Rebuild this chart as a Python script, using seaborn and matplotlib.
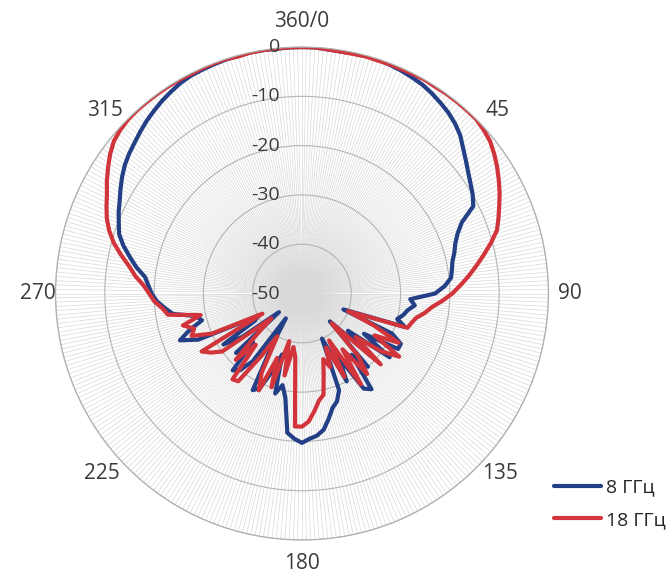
import numpy as np
import pandas as pd
import seaborn as sns
import matplotlib
matplotlib.use("Agg")
import matplotlib.pyplot as plt
from matplotlib.lines import Line2D

# angle grid (degrees, clockwise from top)
angles_deg = list(range(0, 360, 3))

# normalised pattern, dB
gain_8ghz = [
    0, 0, -0.2, -0.3, -0.2, -0.1, -0.1, -0.3, -0.5, -0.8,          # 0-27
    -1.1, -1.6, -2.2, -2.8, -3.6, -4.6, -6.0, -7.2, -8.3, -9.2,    # 30-57
    -10.0, -11.0, -14.5, -16.2, -17.3, -18.0, -18.8, -19.2, -19.6, -21.0,  # 60-87
    -23.0, -28.0, -27.0, -28.3, -29.0, -30.0, -28, -41, -30, -27.5,        # 90-117
    -27.5, -35, -28, -38, -31, -42, -30, -34, -26, -27,                    # 120-147
    -35, -30, -40, -29, -27, -26, -24, -22, -21, -20.5,                    # 150-177
    -19.7, -20.5, -21.6, -28.5, -31, -29, -37, -33, -29, -28,              # 180-207
    -38, -44, -33, -30, -29, -36, -32, -44, -35, -31,                      # 210-237
    -39, -40, -27, -23.5, -26, -29, -28, -23.5, -22, -20.5,                # 240-267
    -19.5, -18.8, -18, -16, -14.3, -12.5, -11, -10.2, -9.3, -8.5,          # 270-297
    -7.5, -6.5, -5.6, -4.9, -4.3, -3.6, -2.9, -2.3, -1.7, -1.2,            # 300-327
    -0.7, -0.4, -0.3, -0.2, -0.1, -0.1, 0, 0, -0.1, 0,                     # 330-357
]
gain_18ghz = [
    0, 0, -0.2, -0.3, -0.3, -0.2, -0.3, -0.2, -0.2, -0.1,
    0, -0.1, 0, 0, 0, 0, -0.4, -0.9, -1.8, -2.8,
    -3.9, -5.0, -6.2, -7.3, -8.4, -10.3, -12.3, -14.2, -16.0, -17.8,
    -19.5, -21.5, -23.5, -24.8, -26.3, -27, -27.5, -40, -34, -28,
    -33, -26.5, -30, -36, -28.5, -41.5, -33, -29, -36, -28,
    -39, -31, -38, -34, -36, -33, -29, -28, -26, -24,
    -23, -23, -37, -39, -33, -40, -30, -36, -28.5, -32,
    -40, -35, -28, -27.6, -36, -31, -38, -42, -30, -28,
    -26.5, -41, -30, -26, -27, -25, -29, -22.5, -21.5, -20,
    -19, -17.8, -16, -14.5, -12.5, -10.5, -8.9, -7.6, -6.6, -5.6,
    -4.3, -3.1, -1.9, -0.9, -0.4, -0.1, 0, 0, 0, 0,
    0, -0.1, 0, 0, 0, -0.2, 0, 0, 0, 0,
]

series_names = ["8 ГГц", "18 ГГц"]
series_colors = ["#233F86", "#D1343A"]
ring_ticks = [0, -10, -20, -30, -40, -50]
angle_tick_labels = ["360/0", "45", "90", "135", "180", "225", "270", "315"]
# where each angle label sits (theta in degrees, r in axis units)
label_theta = [0, 47, 90, 132.3, 180, 228, 270, 313]
label_r = [5.2, 4.3, 4.4, 4.3, 4.8, 4.5, 3.6, 4.5]

sns.set_style("white")
plt.rcParams["font.family"] = ["Open Sans", "DejaVu Sans"]

rows = []
for name, vals in zip(series_names, [gain_8ghz, gain_18ghz]):
    for a, v in zip(angles_deg + [360], vals + [vals[0]]):
        rows.append({"theta": np.deg2rad(a), "gain": v, "series": name})
df = pd.DataFrame(rows)

fig = plt.figure(figsize=(6.66, 5.77), dpi=100)
ax = fig.add_axes([0.0833, 0.0641, 0.7402, 0.8544], projection="polar")
ax.set_theta_zero_location("N")
ax.set_theta_direction(-1)
ax.set_axisbelow(True)

sns.lineplot(data=df, x="theta", y="gain", hue="series",
             palette=dict(zip(series_names, series_colors)),
             sort=False, estimator=None, lw=3, legend=False, ax=ax)

ax.set_ylim(-50, 0)
ax.set_thetagrids(np.arange(0, 360, 1), labels=[""] * 360)
ax.set_rgrids(ring_ticks, labels=[""] * len(ring_ticks))
ax.xaxis.grid(True, color="#D9D9D9", lw=0.5)
ax.yaxis.grid(True, color="#B5B5B5", lw=0.8)
ax.spines["polar"].set_color("#B0B0B0")
ax.spines["polar"].set_linewidth(0.9)
ax.set_xlabel("")
ax.set_ylabel("")

for r in ring_ticks:
    ax.annotate(str(r), xy=(0, r), xytext=(-22, 0), textcoords="offset pixels",
                ha="right", va="center", fontsize=14, color="#3B3B3B")

for a, rr, lbl in zip(label_theta, label_r, angle_tick_labels):
    ax.text(np.deg2rad(a), rr, lbl, ha="center", va="center",
            fontsize=15, color="#3B3B3B", clip_on=False)

handles = [Line2D([], [], color=c, lw=3) for c in series_colors]
fig.legend(handles, series_names, loc="center left",
           bbox_to_anchor=(0.832, 0.1265), frameon=False, fontsize=14,
           handlelength=2.4, handletextpad=0.25, labelspacing=0.75,
           borderpad=0, borderaxespad=0)

fig.savefig("out.png", dpi=100)
